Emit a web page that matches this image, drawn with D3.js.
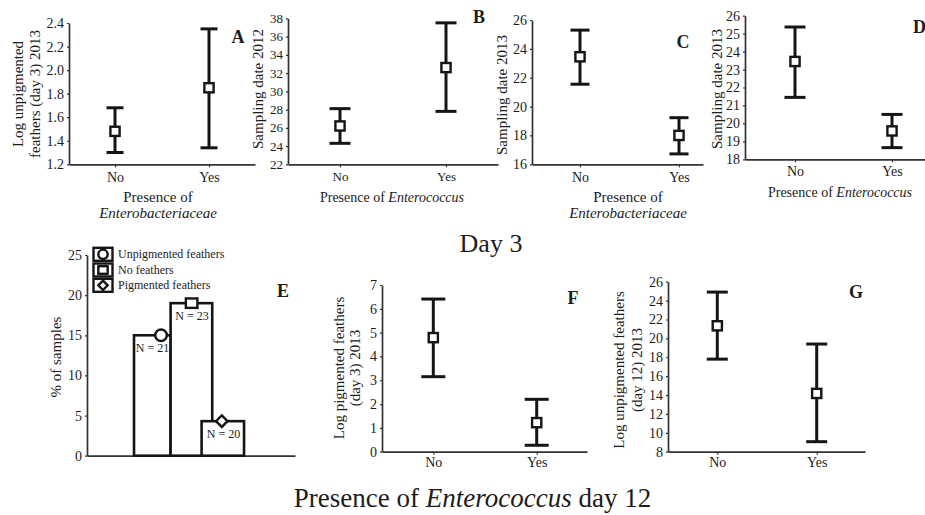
<!DOCTYPE html>
<html>
<head>
<meta charset="utf-8">
<script src="https://cdn.jsdelivr.net/npm/d3@7"></script>
<style>
  body { margin: 0; background: #fff; }
  svg { display: block; }
  text { font-family: "Liberation Serif", "Times New Roman", serif; fill: #1c1c1c; }
</style>
</head>
<body>
<svg id="fig" width="925" height="515"></svg>
<script>
// ---------- data ----------
const groups = ["No", "Yes"];

// A: log unpigmented feathers (day 3) 2013 vs Enterobacteriaceae
const aMean = [1.48, 1.85];
const aLow  = [1.30, 1.34];
const aHigh = [1.68, 2.35];
const aTicks = [1.2, 1.4, 1.6, 1.8, 2.0, 2.2, 2.4];

// B: sampling date 2012 vs Enterococcus
const bMean = [26.2, 32.6];
const bLow  = [24.3, 27.8];
const bHigh = [28.1, 37.5];
const bTicks = [22, 24, 26, 28, 30, 32, 34, 36, 38];

// C: sampling date 2013 vs Enterobacteriaceae
const cMean = [23.45, 18.0];
const cLow  = [21.55, 16.72];
const cHigh = [25.3, 19.23];
const cTicks = [16, 18, 20, 22, 24, 26];

// D: sampling date 2013 vs Enterococcus
const dMean = [23.45, 19.58];
const dLow  = [21.45, 18.65];
const dHigh = [25.37, 20.5];
const dTicks = [18, 19, 20, 21, 22, 23, 24, 25, 26];

// E: % of samples with Enterococcus on day 12
const eCategories = ["Unpigmented feathers", "No feathers", "Pigmented feathers"];
const ePercent = [15, 19, 4.3];
const eN = [21, 23, 20];
const eTicks = [0, 5, 10, 15, 20, 25];

// F: log pigmented feathers (day 3) 2013
const fMean = [4.79, 1.22];
const fLow  = [3.15, 0.27];
const fHigh = [6.41, 2.2];
const fTicks = [0, 1, 2, 3, 4, 5, 6, 7];

// G: log unpigmented feathers (day 12) 2013
const gMean = [21.33, 14.17];
const gLow  = [17.8, 9.06];
const gHigh = [24.9, 19.4];
const gTicks = [8, 10, 12, 14, 16, 18, 20, 22, 24, 26];

// ---------- drawing ----------
const svg = d3.select("#fig");
const INK = "#151515";
const AXIS = "#333";

function styleAxis(sel, fontSize) {
  sel.selectAll("path.domain").attr("stroke", AXIS).attr("stroke-width", 1.7);
  sel.selectAll(".tick line").attr("stroke", AXIS).attr("stroke-width", 1.2);
  sel.selectAll(".tick text")
    .attr("font-family", "Liberation Serif, Times New Roman, serif")
    .attr("font-size", fontSize).attr("fill", "#1c1c1c");
}

function multiText(g, x, y, parts, size, opts = {}) {
  const t = g.append("text").attr("x", x).attr("y", y)
    .attr("font-size", size).attr("text-anchor", opts.anchor || "middle");
  if (opts.weight) t.attr("font-weight", opts.weight);
  if (opts.rotate) {
    t.attr("x", 0).attr("y", 0)
     .attr("transform", `translate(${x},${y}) rotate(-90)`)
     .attr("dominant-baseline", "central");
  }
  parts.forEach(([s, it]) => {
    const ts = t.append("tspan").text(s);
    if (it) ts.attr("font-style", "italic");
  });
  return t;
}

const errPanels = [
  { mean: aMean, low: aLow, high: aHigh, ticks: aTicks, fmt: ".1f",
    axisX: [69, 255], yRange: [164.3, 23], catX: [115, 209], cap: 17, tickFont: 14, tickBase: 182,
    letter: { t: "A", x: 238, y: 43, anchor: "middle" },
    ylab: { lines: [[["Log unpigmented", false]], [["feathers (day 3) 2013", false]]], xs: [18, 35], y: 94, size: 15 },
    xlab: { lines: [[["Presence of", false]], [["Enterobacteriaceae", true]]], x: 158, ys: [202, 218], size: 15 } },
  { mean: bMean, low: bLow, high: bHigh, ticks: bTicks, fmt: "d",
    axisX: [288, 498], yRange: [164.3, 18.3], catX: [340, 446], cap: 21, tickFont: 13, tickBase: 181,
    letter: { t: "B", x: 479, y: 23, anchor: "middle" },
    ylab: { lines: [[["Sampling date 2012", false]]], xs: [258], y: 89, size: 15 },
    xlab: { lines: [[["Presence of ", false], ["Enterococcus", true]]], x: 392, ys: [202], size: 14 } },
  { mean: cMean, low: cLow, high: cHigh, ticks: cTicks, fmt: "d",
    axisX: [532, 703], yRange: [164.3, 20], catX: [580, 679], cap: 19, tickFont: 14, tickBase: 182,
    letter: { t: "C", x: 683, y: 48, anchor: "middle" },
    ylab: { lines: [[["Sampling date 2013", false]]], xs: [502], y: 95, size: 15 },
    xlab: { lines: [[["Presence of", false]], [["Enterobacteriaceae", true]]], x: 628, ys: [202, 218], size: 15 } },
  { mean: dMean, low: dLow, high: dHigh, ticks: dTicks, fmt: "d",
    axisX: [745, 925], yRange: [159.3, 15.7], catX: [795, 892], cap: 21, tickFont: 14, tickBase: 176,
    letter: { t: "D", x: 913, y: 33, anchor: "start" },
    ylab: { lines: [[["Sampling date 2013", false]]], xs: [717], y: 89, size: 15 },
    xlab: { lines: [[["Presence of ", false], ["Enterococcus", true]]], x: 840, ys: [197], size: 14 } },
  { mean: fMean, low: fLow, high: fHigh, ticks: fTicks, fmt: "d",
    axisX: [382, 587], yRange: [451.7, 285], catX: [433.3, 536.7], cap: 24, tickFont: 14, tickBase: 467,
    letter: { t: "F", x: 573, y: 304, anchor: "middle" },
    ylab: { lines: [[["Log pigmented feathers", false]], [["(day 3) 2013", false]]], xs: [339, 355], y: 368, size: 15 },
    xlab: null },
  { mean: gMean, low: gLow, high: gHigh, ticks: gTicks, fmt: "d",
    axisX: [668, 865], yRange: [451.7, 281.7], catX: [717.3, 816.7], cap: 21, tickFont: 14, tickBase: 467,
    letter: { t: "G", x: 856, y: 298, anchor: "middle" },
    ylab: { lines: [[["Log unpigmented feathers", false]], [["(day 12) 2013", false]]], xs: [619, 637], y: 370, size: 15 },
    xlab: null }
];

errPanels.forEach(p => {
  const g = svg.append("g");
  const y = d3.scaleLinear().domain(d3.extent(p.ticks)).range(p.yRange);
  const lin = d3.scaleLinear().domain([0, 1]).range(p.catX);
  const x = d3.scaleLinear()
    .domain([lin.invert(p.axisX[0]), lin.invert(p.axisX[1])])
    .range(p.axisX);
  const baseY = p.yRange[0];
  const tickSize = 3;
  const pad = p.tickBase - baseY - tickSize - 0.71 * p.tickFont;

  const xa = g.append("g").attr("transform", `translate(0,${baseY})`)
    .call(d3.axisBottom(x).tickValues([0, 1]).tickFormat(i => groups[i])
      .tickSizeInner(tickSize).tickSizeOuter(0).tickPadding(pad));
  styleAxis(xa, p.tickFont);

  const ya = g.append("g").attr("transform", `translate(${p.axisX[0]},0)`)
    .call(d3.axisLeft(y).tickValues(p.ticks).tickFormat(d3.format(p.fmt))
      .tickSizeInner(2).tickSizeOuter(0).tickPadding(3));
  styleAxis(ya, p.tickFont);

  // error bars with square means
  groups.forEach((grp, i) => {
    const cx = x(i);
    const eb = g.append("g").attr("stroke", INK).attr("stroke-width", 3).attr("fill", "none");
    eb.append("line").attr("x1", cx).attr("x2", cx).attr("y1", y(p.low[i])).attr("y2", y(p.high[i]));
    [p.low[i], p.high[i]].forEach(v => {
      eb.append("line").attr("x1", cx - p.cap / 2).attr("x2", cx + p.cap / 2)
        .attr("y1", y(v)).attr("y2", y(v));
    });
    g.append("rect").attr("x", cx - 4.6).attr("y", y(p.mean[i]) - 4.6)
      .attr("width", 9.2).attr("height", 9.2)
      .attr("fill", "#fff").attr("stroke", INK).attr("stroke-width", 2.4);
  });

  multiText(g, p.letter.x, p.letter.y, [[p.letter.t, false]], 18,
    { anchor: p.letter.anchor, weight: "bold" });

  p.ylab.lines.forEach((ln, k) => {
    multiText(g, p.ylab.xs[k], p.ylab.y, ln, p.ylab.size, { rotate: true });
  });
  if (p.xlab) {
    p.xlab.lines.forEach((ln, k) => {
      multiText(g, p.xlab.x, p.xlab.ys[k], ln, p.xlab.size);
    });
  }
});

// ---------- panel E: bar chart ----------
(function () {
  const g = svg.append("g");
  const y = d3.scaleLinear().domain(d3.extent(eTicks)).range([455.7, 255]);
  const x = d3.scaleLinear().domain([0, 1]).range([87, 295]);
  // bar extents and marker offsets on the 0..1 panel scale
  const barLeft = [0.226, 0.402, 0.551];
  const barRight = [0.402, 0.602, 0.755];
  const markX = [0.356, 0.503, 0.648];
  const labelX = [0.315, 0.505, 0.656];

  const xa = g.append("g").attr("transform", `translate(0,${y(0)})`)
    .call(d3.axisBottom(x).tickValues([]).tickSizeOuter(0));
  styleAxis(xa, 14);
  const ya = g.append("g").attr("transform", `translate(${x(0)},0)`)
    .call(d3.axisLeft(y).tickValues(eTicks).tickFormat(d3.format("d"))
      .tickSizeInner(2).tickSizeOuter(0).tickPadding(3));
  styleAxis(ya, 14);

  eCategories.forEach((c, i) => {
    g.append("rect")
      .attr("x", x(barLeft[i])).attr("width", x(barRight[i]) - x(barLeft[i]))
      .attr("y", y(ePercent[i])).attr("height", y(0) - y(ePercent[i]))
      .attr("fill", "#fff").attr("stroke", INK).attr("stroke-width", 2.6);
  });

  function marker(sel, kind, cx, cy, s) {
    const m = sel.append("g").attr("stroke", INK).attr("stroke-width", 2.4).attr("fill", "#fff");
    if (kind === 0) m.append("circle").attr("cx", cx).attr("cy", cy).attr("r", s * 0.55);
    else if (kind === 1) m.append("rect").attr("x", cx - s * 0.55).attr("y", cy - s * 0.45)
      .attr("width", s * 1.1).attr("height", s * 0.9);
    else m.append("path").attr("d",
      `M${cx},${cy - s * 0.55}L${cx + s * 0.55},${cy}L${cx},${cy + s * 0.55}L${cx - s * 0.55},${cy}Z`);
  }

  eCategories.forEach((c, i) => {
    marker(g, i, x(markX[i]), y(ePercent[i]), 10.5);
    g.append("text").attr("x", x(labelX[i])).attr("y", y(ePercent[i]) + 16.5)
      .attr("text-anchor", "middle").attr("font-size", 12).text(`N = ${eN[i]}`);
  });

  // legend
  const legY = [254.3, 270, 285.3];
  eCategories.forEach((c, i) => {
    g.append("rect").attr("x", 93.5).attr("y", legY[i] - 6.5).attr("width", 19).attr("height", 13)
      .attr("fill", "#fff").attr("stroke", INK).attr("stroke-width", 2.4);
    marker(g, i, 103, legY[i], 8.5);
    g.append("text").attr("x", 118).attr("y", legY[i]).attr("dominant-baseline", "central")
      .attr("font-size", 12).text(c);
  });

  multiText(g, 283, 297, [["E", false]], 18, { weight: "bold" });
  multiText(g, 56, 357, [["% of samples", false]], 15, { rotate: true });
})();

// ---------- section titles ----------
multiText(svg, 491, 251.5, [["Day 3", false]], 26);
multiText(svg, 472.5, 507, [["Presence of ", false], ["Enterococcus", true], [" day 12", false]], 27);
</script>
</body>
</html>
